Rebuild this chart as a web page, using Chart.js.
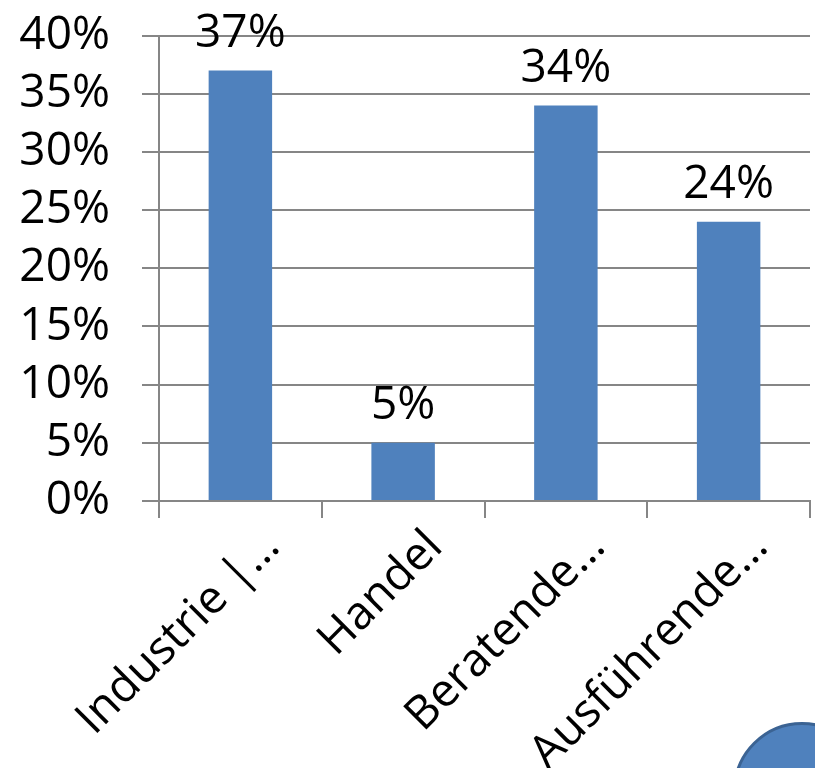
<!DOCTYPE html>
<html>
<head>
<meta charset="utf-8">
<script src="https://cdn.jsdelivr.net/npm/chart.js@4"></script>
<style>
    html, body { margin: 0; padding: 0; background: #fff; overflow: hidden; }
    #wrap { position: relative; width: 815px; height: 768px; overflow: hidden; }
    #chart { position: absolute; left: 0; top: -24px; }
    #bubble {
        position: absolute; left: 733px; top: 722px; width: 138px; height: 138px;
        border-radius: 50%; background: #4F81BD; border: 3px solid #3B6393; box-sizing: border-box;
    }
</style>
</head>
<body>
<div id="wrap">
    <canvas id="chart" width="815" height="792"></canvas>
    <div id="bubble"></div>
</div>
<script>
// chart data
const categories = ["Industrie |…", "Handel", "Beratende…", "Ausführende…"];
const shares = [37, 5, 34, 24];
const yTicks = [0, 5, 10, 15, 20, 25, 30, 35, 40];

const FONT = "'Open Sans', 'DejaVu Sans', sans-serif";

// draw the % labels above each bar
const barLabels = {
    id: 'barLabels',
    afterDatasetsDraw(chart) {
        const ctx = chart.ctx;
        const meta = chart.getDatasetMeta(0);
        ctx.save();
        ctx.font = "46px " + FONT;
        ctx.fillStyle = "#000";
        ctx.textAlign = "center";
        ctx.textBaseline = "bottom";
        meta.data.forEach((bar, i) => {
            ctx.fillText(shares[i] + "%", bar.x, bar.y - 14);
        });
        ctx.restore();
    }
};

const ctx = document.getElementById("chart").getContext("2d");
new Chart(ctx, {
    type: 'bar',
    data: {
        labels: categories,
        datasets: [{
            data: shares,
            backgroundColor: '#4F81BD',
            categoryPercentage: 1,
            barPercentage: 0.39
        }]
    },
    options: {
        responsive: false,
        animation: false,
        layout: { padding: { top: 0, right: 5, left: 0, bottom: 0 } },
        plugins: {
            legend: { display: false },
            tooltip: { enabled: false }
        },
        scales: {
            x: {
                grid: { offset: true, drawOnChartArea: false, color: '#868686', lineWidth: 2, tickLength: 17 },
                border: { color: '#868686', width: 2 },
                ticks: {
                    color: '#000',
                    font: { family: FONT, size: 46 },
                    maxRotation: 45, minRotation: 45,
                    autoSkip: false,
                    labelOffset: 32,
                    padding: 2
                },
                afterFit: (scale) => { scale.height = 267; }
            },
            y: {
                min: 0, max: 40,
                afterBuildTicks: (scale) => { scale.ticks = yTicks.map(v => ({ value: v })); },
                grid: { color: '#868686', lineWidth: 2, tickLength: 17 },
                border: { color: '#868686', width: 2 },
                ticks: {
                    color: '#000',
                    font: { family: FONT, size: 46 },
                    padding: 32,
                    autoSkip: false,
                    stepSize: 5,
                    callback: (v) => v + '%'
                },
                afterFit: (scale) => { scale.width = 159; }
            }
        }
    },
    plugins: [barLabels]
});
</script>
</body>
</html>
